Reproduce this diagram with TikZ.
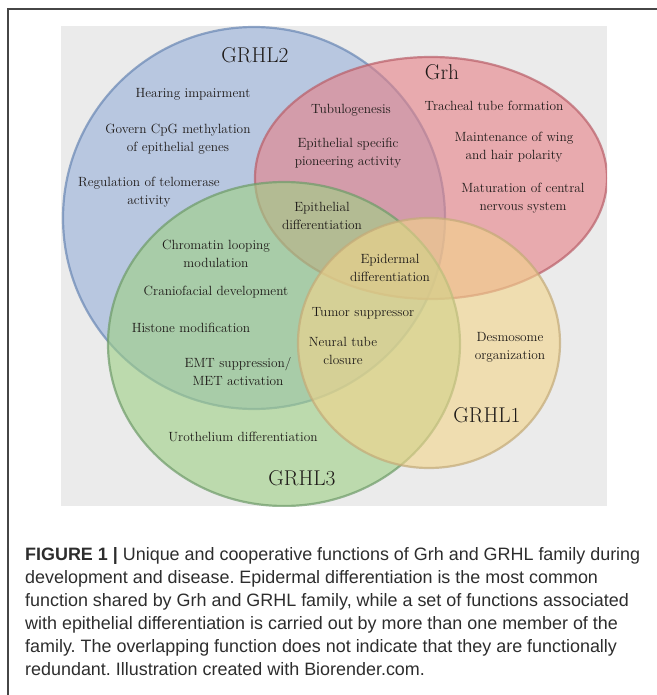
\documentclass[tikz,border=0pt]{standalone}
\usepackage{fontspec}
\newfontfamily\capfont{Liberation Sans}
\usetikzlibrary{positioning}
\definecolor{panelgray}{RGB}{235,235,235}
\definecolor{framegray}{RGB}{70,70,70}
\definecolor{inktext}{RGB}{30,26,24}
\definecolor{captext}{RGB}{45,45,45}
\definecolor{grhltwofill}{RGB}{150,176,218}
\definecolor{grhltwoline}{RGB}{105,135,180}
\definecolor{grhfill}{RGB}{230,128,134}
\definecolor{grhline}{RGB}{185,95,105}
\definecolor{grhlthreefill}{RGB}{158,208,132}
\definecolor{grhlthreeline}{RGB}{110,155,105}
\definecolor{grhlonefill}{RGB}{243,212,138}
\definecolor{grhloneline}{RGB}{195,170,120}

\tikzset{
  venn/.style={line width=2.2bp, fill opacity=0.6, draw opacity=0.7},
  fn/.style={font=\fontsize{13.4}{18}\selectfont, text=inktext, align=center, inner sep=0pt},
  setname/.style={font=\fontsize{21.5}{24}\selectfont, text=inktext, inner sep=0pt},
  capline/.style={font=\capfont\fontsize{18}{22}\selectfont\frenchspacing, text=captext, anchor=base west, inner sep=0pt},
}

\begin{document}
\begin{tikzpicture}[x=1bp, y=-1bp]
  \useasboundingbox (0,0) rectangle (657,695);
  % frame and panel
  \draw[framegray, line width=1.4bp] (8,695) -- (8,9) -- (657,9);
  \fill[panelgray] (61,26) rectangle (607,506);

  % the four sets
  \begin{scope}
    \clip (61,26) rectangle (607,506);
    \draw[venn, draw=grhltwoline, fill=grhltwofill] (254,218) ellipse [x radius=191, y radius=191];
    \draw[venn, draw=grhline, fill=grhfill] (431,178) ellipse [x radius=176, y radius=121];
    \draw[venn, draw=grhlthreeline, fill=grhlthreefill] (284,344) ellipse [x radius=176, y radius=162];
    \draw[venn, draw=grhloneline, fill=grhlonefill] (429,343) ellipse [x radius=131, y radius=125];
  \end{scope}

  % set names
  \node[setname] (grhltwo) at (255,55) {GRHL2};
  \node[setname] (grh) at (442,72) {Grh};
  \node[setname] (grhlone) at (487,415) {GRHL1};
  \node[setname] (grhlthree) at (302,478) {GRHL3};

  % functions
  \node[fn] (hearing) at (193,94) {Hearing impairment};
  \node[fn] (cpg) at (178,139) {Govern CpG methylation\\of epithelial genes};
  \node[fn] (telomerase) at (149,192) {Regulation of telomerase\\activity};
  \node[fn] (tubulo) at (351,110) {Tubulogenesis};
  \node[fn] (pioneer) at (348,153) {Epithelial specific\\pioneering activity};
  \node[fn] (tracheal) at (494,106) {Tracheal tube formation};
  \node[fn] (wing) at (514,147) {Maintenance of wing\\and hair polarity};
  \node[fn] (cns) at (523,198) {Maturation of central\\nervous system};
  \node[fn] (epithelial) at (322,216) {Epithelial\\differentiation};
  \node[fn] (chromatin) at (216,254) {Chromatin looping\\modulation};
  \node[fn] (epidermal) at (390,268) {Epidermal\\differentiation};
  \node[fn] (cranio) at (216,292) {Craniofacial development};
  \node[fn] (tumor) at (363,313) {Tumor suppressor};
  \node[fn] (histone) at (191,328) {Histone modification};
  \node[fn] (neural) at (343,351) {Neural tube\\closure};
  \node[fn] (desmo) at (510,347) {Desmosome\\organization};
  \node[fn] (emt) at (238,372) {EMT suppression/\\MET activation};
  \node[fn] (uro) at (243,437) {Urothelium differentiation};

  % caption
  \node[capline] (cap1) at (25,560) {\textbf{FIGURE 1 |} Unique and cooperative functions of Grh and GRHL family during};
  \node[capline] (cap2) at (25,583) {development and disease. Epidermal differentiation is the most common};
  \node[capline] (cap3) at (25,606) {function shared by Grh and GRHL family, while a set of functions associated};
  \node[capline] (cap4) at (25,629) {with epithelial differentiation is carried out by more than one member of the};
  \node[capline] (cap5) at (25,652) {family. The overlapping function does not indicate that they are functionally};
  \node[capline] (cap6) at (25,675) {redundant. Illustration created with Biorender.com.};
\end{tikzpicture}
\end{document}
